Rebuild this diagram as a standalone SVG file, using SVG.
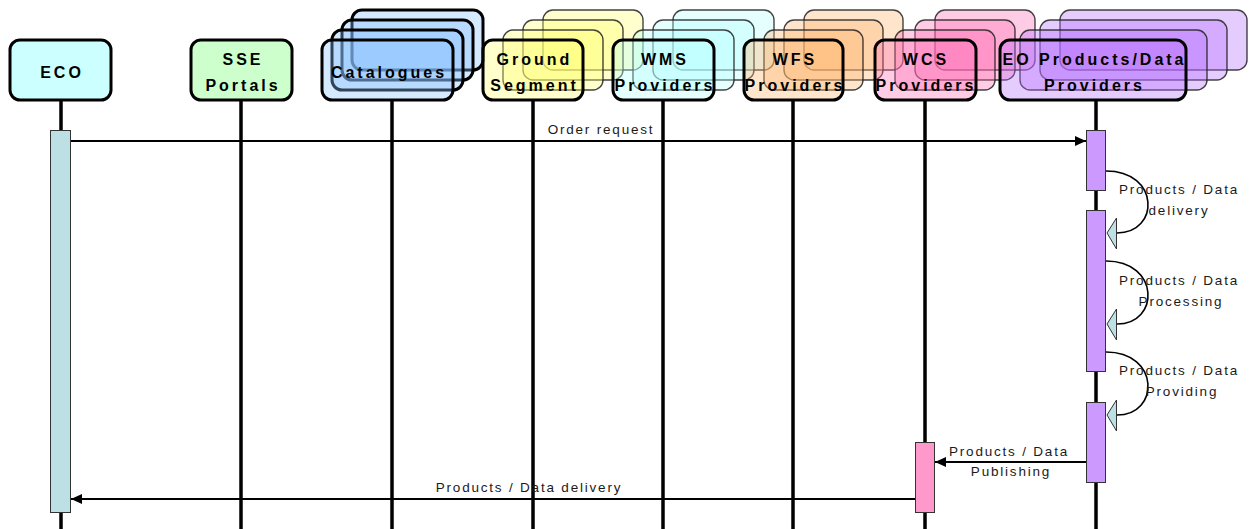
<svg xmlns="http://www.w3.org/2000/svg" width="1249" height="529" viewBox="0 0 1249 529">
  <defs>
    <marker id="arrow" markerUnits="userSpaceOnUse" markerWidth="12" markerHeight="10" refX="11" refY="5" orient="auto">
      <path d="M0,0 L11,5 L0,10 z" fill="#000"/>
    </marker>
    <style>
      .head { stroke: #000; stroke-width: 3; }
      .back { stroke: #222; stroke-width: 1.4; stroke-opacity: 0.85; }
      .backBold { stroke: #000; stroke-width: 3; }
      .stack { fill-opacity: 0.35; }
      .title { font-family: "Liberation Sans", Arial, sans-serif; font-weight: bold; font-size: 16px; letter-spacing: 3px; text-anchor: middle; fill: #000; fill-opacity: 1; }
      .label { font-family: "Liberation Sans", Arial, sans-serif; font-size: 13.5px; letter-spacing: 1.8px; text-anchor: middle; fill: #1a1a1a; }
      .life { stroke: #000; stroke-width: 3.5; }
      .msg { stroke: #000; stroke-width: 2; fill: none; }
      .self { stroke: #000; stroke-width: 1.6; fill: none; }
      .selfHead { fill: #BCE0E3; stroke: #333; stroke-width: 1; }
      .bar { stroke: #333; stroke-width: 1; }
    </style>
  </defs>
  <rect width="1249" height="529" fill="#fff"/>

  <!-- lifelines -->
  <g id="lifelines">
    <line class="life" x1="61" y1="100" x2="61" y2="529"/>
    <line class="life" x1="241" y1="100" x2="241" y2="529"/>
    <line class="life" x1="392" y1="100" x2="392" y2="529"/>
    <line class="life" x1="533" y1="100" x2="533" y2="529"/>
    <line class="life" x1="663" y1="100" x2="663" y2="529"/>
    <line class="life" x1="793" y1="100" x2="793" y2="529"/>
    <line class="life" x1="925" y1="100" x2="925" y2="529"/>
    <line class="life" x1="1096" y1="100" x2="1096" y2="529"/>
  </g>

  <g id="eco">
    <rect class="head" x="10" y="40" width="101" height="60" rx="10" fill="#CCFFFF"/>
    <text class="title" x="62" y="78">ECO</text>
  </g>

  <g id="sse-portals">
    <rect class="head" x="191" y="40" width="101" height="60" rx="10" fill="#CCFFCC"/>
    <text class="title" x="243" y="65">SSE</text>
    <text class="title" x="243" y="91">Portals</text>
  </g>

  <!-- stacked participants: three shadow cards behind the front card -->
  <g id="catalogues" class="stack" fill="#88BFFF">
    <rect class="backBold" x="352" y="10" width="131" height="60" rx="10"/>
    <rect class="backBold" x="342" y="20" width="131" height="60" rx="10"/>
    <rect class="backBold" x="332" y="30" width="131" height="60" rx="10"/>
    <rect class="head" x="322" y="40" width="131" height="60" rx="10"/>
    <text class="title" x="389" y="78">Catalogues</text>
  </g>

  <g id="ground-segment" class="stack" fill="#FFFF70">
    <rect class="back" x="543" y="10" width="100" height="60" rx="10"/>
    <rect class="back" x="523" y="20" width="100" height="60" rx="10"/>
    <rect class="back" x="503" y="30" width="100" height="60" rx="10"/>
    <rect class="head" x="483" y="40" width="100" height="60" rx="10"/>
    <text class="title" x="534.5" y="65">Ground</text>
    <text class="title" x="534.5" y="91">Segment</text>
  </g>

  <g id="wms-providers" class="stack" fill="#B5FFFF">
    <rect class="back" x="673" y="10" width="101" height="60" rx="10"/>
    <rect class="back" x="653" y="20" width="101" height="60" rx="10"/>
    <rect class="back" x="633" y="30" width="101" height="60" rx="10"/>
    <rect class="head" x="613" y="40" width="101" height="60" rx="10"/>
    <text class="title" x="665" y="65">WMS</text>
    <text class="title" x="665" y="91">Providers</text>
  </g>

  <g id="wfs-providers" class="stack" fill="#FFB56D">
    <rect class="back" x="804" y="10" width="99" height="60" rx="10"/>
    <rect class="back" x="784" y="20" width="99" height="60" rx="10"/>
    <rect class="back" x="764" y="30" width="99" height="60" rx="10"/>
    <rect class="head" x="744" y="40" width="99" height="60" rx="10"/>
    <text class="title" x="795" y="65">WFS</text>
    <text class="title" x="795" y="91">Providers</text>
  </g>

  <g id="wcs-providers" class="stack" fill="#FF6DB5">
    <rect class="back" x="935" y="10" width="100" height="60" rx="10"/>
    <rect class="back" x="915" y="20" width="100" height="60" rx="10"/>
    <rect class="back" x="895" y="30" width="100" height="60" rx="10"/>
    <rect class="head" x="875" y="40" width="101" height="60" rx="10"/>
    <text class="title" x="926" y="65">WCS</text>
    <text class="title" x="926" y="91">Providers</text>
  </g>

  <g id="eo-providers" class="stack" fill="#B56DFF">
    <rect class="back" x="1060" y="10" width="187" height="60" rx="10"/>
    <rect class="back" x="1040" y="20" width="187" height="60" rx="10"/>
    <rect class="back" x="1020" y="30" width="187" height="60" rx="10"/>
    <rect class="head" x="1000" y="40" width="186" height="60" rx="10"/>
    <text class="title" x="1094.5" y="65">EO Products/Data</text>
    <text class="title" x="1094.5" y="91">Providers</text>
  </g>

  <!-- activation bars -->
  <g id="activations">
    <rect class="bar" x="50.5" y="130.5" width="20" height="382" fill="#BCE0E3"/>
    <rect class="bar" x="1086.5" y="130.5" width="19" height="60" fill="#CC99FF"/>
    <rect class="bar" x="1086.5" y="210.5" width="19" height="161" fill="#CC99FF"/>
    <rect class="bar" x="1086.5" y="402.5" width="19" height="80" fill="#CC99FF"/>
    <rect class="bar" x="915.5" y="442.5" width="19" height="70" fill="#FF99CC"/>
  </g>

  <g id="connectors">
    <!-- order request -->
    <line class="msg" x1="71" y1="141" x2="1086" y2="141" marker-end="url(#arrow)"/>
    <text class="label" x="601" y="134">Order request</text>

    <!-- self messages on the EO providers lifeline -->
    <path class="self" d="M1106,171 C1160,171 1160,233 1117,233"/>
    <polygon class="selfHead" points="1107,233 1116.5,218 1116.5,249"/>
    <text class="label" x="1179" y="194">Products / Data</text>
    <text class="label" x="1179" y="215">delivery</text>

    <path class="self" d="M1106,261 C1160,261 1160,324 1117,324"/>
    <polygon class="selfHead" points="1107,324 1116.5,309 1116.5,340"/>
    <text class="label" x="1179" y="285">Products / Data</text>
    <text class="label" x="1181" y="306">Processing</text>

    <path class="self" d="M1106,352 C1160,352 1160,415 1117,415"/>
    <polygon class="selfHead" points="1107,415 1116.5,400 1116.5,431"/>
    <text class="label" x="1179" y="375">Products / Data</text>
    <text class="label" x="1182" y="396">Providing</text>

    <!-- publishing -->
    <line class="msg" x1="1086" y1="462" x2="935" y2="462" marker-end="url(#arrow)"/>
    <text class="label" x="1009" y="456">Products / Data</text>
    <text class="label" x="1011" y="476">Publishing</text>

    <!-- delivery back to ECO -->
    <line class="msg" x1="915" y1="499" x2="71" y2="499" marker-end="url(#arrow)"/>
    <text class="label" x="529" y="492">Products / Data delivery</text>
  </g>
</svg>
